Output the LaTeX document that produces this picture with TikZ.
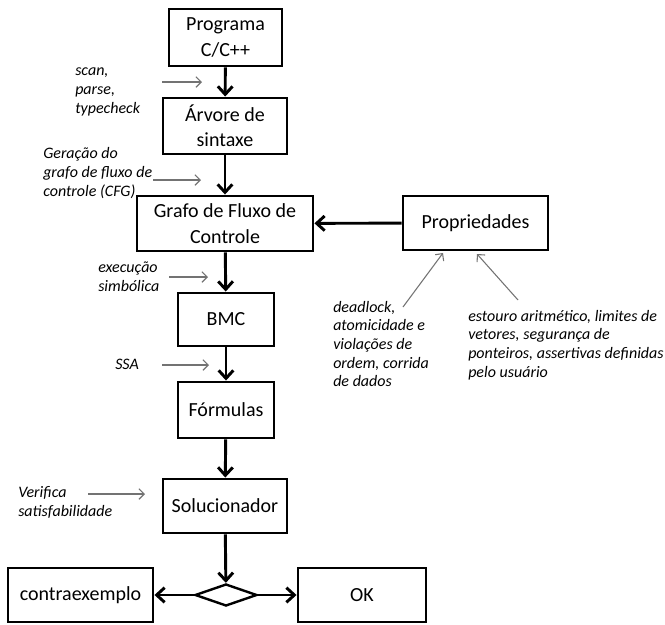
\documentclass[tikz,border=0pt]{standalone}
\usepackage{fontspec}
\setmainfont{Carlito}
\usetikzlibrary{arrows.meta,shapes.geometric}

\newlength\pix
\setlength\pix{0.75pt}

\tikzset{
	box/.style={draw, line width=2.2pt, align=center, inner sep=0pt, font=\fontsize{15}{19}\selectfont},
	flow/.style={line width=2.2pt, -{Straight Barb[length=6pt,width=11pt]}},
	note/.style={anchor=west, align=left, inner sep=0pt, font=\fontsize{12}{14}\selectfont\itshape},
	hint/.style={draw=black!55, line width=0.8pt, -{Straight Barb[length=4pt,width=8pt]}}
}

\begin{document}
\begin{tikzpicture}[x=0.75pt, y=-0.75pt]
		\useasboundingbox (0,0) rectangle (665,625);
		
		% Main chain
		\node[box, minimum width=113\pix, minimum height=57\pix] (prog) at (225.5,37.5) {Programa\\C/C++};
		\node[box, minimum width=124\pix, minimum height=56\pix] (tree) at (225,126) {Árvore de\\sintaxe};
		\node[box, minimum width=176\pix, minimum height=55\pix] (cfg) at (225,223.5) {Grafo de Fluxo de\\Controle};
		\node[box, minimum width=96\pix, minimum height=53\pix] (bmc) at (226,319.5) {BMC};
		\node[box, minimum width=96\pix, minimum height=56\pix] (form) at (226,410) {Fórmulas};
		\node[box, minimum width=124\pix, minimum height=54\pix] (solver) at (225,506) {Solucionador};
		\node[draw, diamond, line width=1.8pt, inner sep=0pt, minimum width=62\pix, minimum height=22\pix] (dec) at (226,595) {};
		\node[box, minimum width=145\pix, minimum height=54\pix] (cex) at (80.5,595) {contraexemplo};
		\node[box, minimum width=128\pix, minimum height=54\pix] (ok) at (362,595) {OK};
		\node[box, minimum width=145\pix, minimum height=54\pix] (prop) at (475.5,223) {Propriedades};
		
		\draw[flow] (prog) -- (tree);
		\draw[flow] (tree) -- (cfg);
		\draw[flow] (cfg) -- (bmc);
		\draw[flow] (bmc) -- (form);
		\draw[flow] (form) -- (solver);
		\draw[flow] (solver) -- (dec);
		\draw[flow] (dec) -- (cex);
		\draw[flow] (dec) -- (ok);
		\draw[flow] (prop) -- (cfg);
		
		% Notes
		\node[note] (scan) at (75,92) {scan,\\parse,\\typecheck};
		\node[note] (gen) at (43,173) {Geração do\\grafo de fluxo de\\controle (CFG)};
		\node[note] (sym) at (98,276.5) {execução\\simbólica};
		\node[note] (ssa) at (115,364) {SSA};
		\node[note] (sat) at (18,502.5) {Verifica\\satisfabilidade};
		\node[note] (conc) at (333,344) {deadlock,\\atomicidade e\\violações de\\ordem, corrida\\de dados};
		\node[note] (safe) at (468,345) {estouro aritmético, limites de\\vetores, segurança de\\ponteiros, assertivas definidas\\pelo usuário};
		
		% Note arrows
		\coordinate (scan-a) at (162,82);   \coordinate (scan-b) at (202,82);
		\coordinate (gen-a) at (153,180);   \coordinate (gen-b) at (201,180);
		\coordinate (sym-a) at (169,277);   \coordinate (sym-b) at (208,277);
		\coordinate (ssa-a) at (162,365);   \coordinate (ssa-b) at (209,365);
		\coordinate (sat-a) at (88,494);    \coordinate (sat-b) at (145,494);
		\coordinate (conc-a) at (403,307);  \coordinate (conc-b) at (443,253);
		\coordinate (safe-a) at (518,300);  \coordinate (safe-b) at (477,254);
		
		\foreach \n in {scan, gen, sym, ssa, sat, conc, safe}
			\draw[hint] (\n-a) -- (\n-b);
	\end{tikzpicture}
\end{document}
